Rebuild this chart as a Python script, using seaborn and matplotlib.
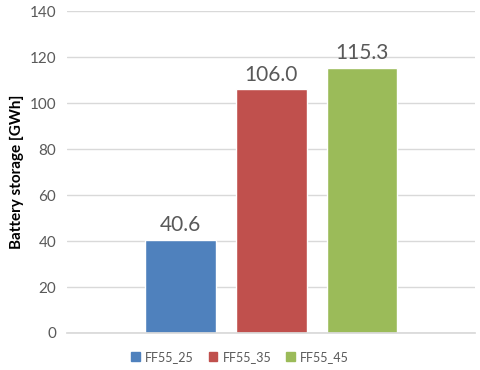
import matplotlib
matplotlib.use("Agg")
import matplotlib.pyplot as plt
import pandas as pd
import seaborn as sns

# Data
scenarios = ["FF55_25", "FF55_35", "FF55_45"]
storage_gwh = [40.6, 106.0, 115.3]
colors = ["#4F81BD", "#C0504D", "#9BBB59"]

sns.set_theme(style="white")
plt.rcParams["font.family"] = ["Lato", "DejaVu Sans"]

df = pd.DataFrame({"scenario": scenarios, "storage": storage_gwh})

fig = plt.figure(figsize=(4.8, 3.7), dpi=100)
ax = fig.add_axes([0.14, 0.10, 0.85, 0.87])
sns.barplot(
    data=df, x="scenario", y="storage", hue="scenario",
    order=scenarios, hue_order=scenarios, palette=colors, saturation=1,
    width=0.78, dodge=False, legend=False, ax=ax,
)

ax.set_xlim(-1.25, 3.25)
ax.set_ylim(0, 140)
ax.set_yticks(range(0, 141, 20))
ax.yaxis.grid(True, color="#D9D9D9", linewidth=1)
ax.set_axisbelow(True)
for s in ["top", "right", "left"]:
    ax.spines[s].set_visible(False)
ax.spines["bottom"].set_color("#D9D9D9")
ax.tick_params(axis="y", length=0, labelsize=11, labelcolor="#595959", pad=8)
ax.set_xticks([])
ax.set_xlabel("")
ax.set_ylabel("Battery storage [GWh]", fontsize=11, fontweight="bold", color="black")

for p, v in zip(ax.patches, storage_gwh):
    ax.text(p.get_x() + p.get_width() / 2, v + 2, f"{v:.1f}",
            ha="center", va="bottom", fontsize=15, color="#595959")

handles = [plt.Rectangle((0, 0), 1, 1, color=c) for c in colors]
fig.legend(handles, scenarios, loc="center", bbox_to_anchor=(0.5, 0.035),
           ncol=3, frameon=False, fontsize=9, handlelength=0.7, handleheight=0.7,
           handletextpad=0.4, columnspacing=1.2, labelcolor="#595959")

plt.savefig("out.png", dpi=100)
